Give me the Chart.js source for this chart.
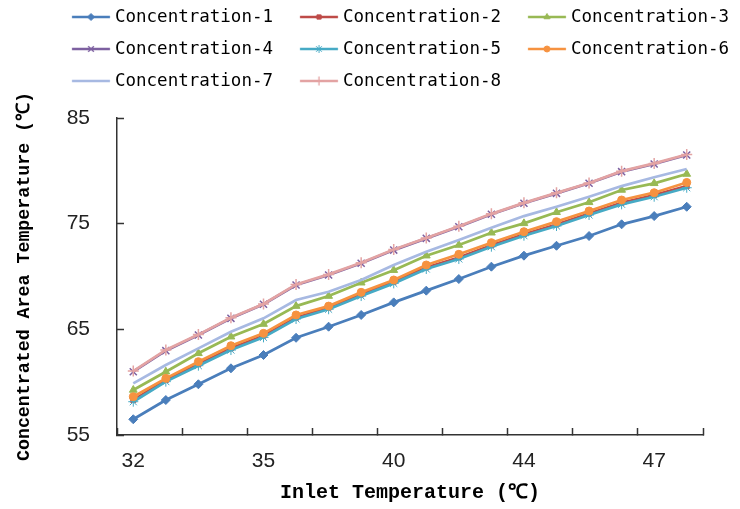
<!DOCTYPE html>
<html><head><meta charset="utf-8">
<script src="https://cdn.jsdelivr.net/npm/chart.js@4.4.0/dist/chart.umd.min.js"></script>
<style>html,body{margin:0;padding:0;background:#fff}canvas{display:block}</style>
</head><body>
<canvas id="c" width="740" height="509"></canvas>
<script>
// ---- data ----
const categories = ['32','','','','35','','','','40','','','','44','','','','47',''];
const seriesNames = ['Concentration-1','Concentration-2','Concentration-3','Concentration-4',
                     'Concentration-5','Concentration-6','Concentration-7','Concentration-8'];
const conc1 = [56.49,58.31,59.80,61.31,62.57,64.20,65.25,66.36,67.55,68.66,69.76,70.93,71.97,72.91,73.83,74.94,75.72,76.60];
const conc2 = [58.30,60.20,61.70,63.20,64.40,66.10,67.05,68.30,69.50,70.85,71.80,72.95,74.00,74.92,75.95,76.98,77.70,78.55];
const conc3 = [59.26,60.99,62.73,64.30,65.50,67.20,68.15,69.41,70.60,71.97,72.98,74.14,75.03,76.08,77.02,78.19,78.82,79.70];
const conc4 = [60.99,62.98,64.46,66.04,67.37,69.20,70.14,71.25,72.50,73.61,74.71,75.89,76.93,77.87,78.82,79.92,80.65,81.50];
const conc5 = [58.15,60.05,61.56,63.04,64.24,65.98,66.90,68.15,69.35,70.71,71.66,72.82,73.86,74.78,75.82,76.83,77.55,78.40];
const conc6 = [58.62,60.36,61.94,63.45,64.62,66.36,67.20,68.50,69.67,71.09,72.10,73.20,74.24,75.19,76.20,77.24,77.93,78.90];
const conc7 = [59.89,61.62,63.20,64.78,66.04,67.78,68.56,69.67,71.09,72.35,73.45,74.62,75.72,76.60,77.55,78.56,79.39,80.17];
const conc8 = [61.05,63.05,64.50,66.10,67.40,69.25,70.20,71.30,72.55,73.65,74.75,75.93,76.97,77.92,78.85,79.97,80.70,81.55];
const seriesValues = [conc1,conc2,conc3,conc4,conc5,conc6,conc7,conc8];
const yTicks = {min:55, max:85, step:10};

// ---- styles ----
const colors  = ['#4A7EBB','#BE4B48','#98B954','#7D60A0','#46AAC5','#F69240','#A7B9E2','#E3A3A3'];
const markers = ['rectRot','rect','triangle','crossRot','star','circle',false,'cross'];
const radii   = [4.5,3.5,4.5,5,5,4,0,5.5];

const LEG_FS = 17.5, LEG_PAD = 14.5, ITEM_STEP = 228;
const legFont = '"DejaVu Sans Mono", monospace';
const mctx = document.createElement('canvas').getContext('2d');
mctx.font = LEG_FS + 'px ' + legFont;
const textW = mctx.measureText(seriesNames[0]).width;
const boxW = ITEM_STEP - LEG_PAD - LEG_FS/2 - textW;

function legendSymbol(i){
  const startRel = boxW/2 + LEG_FS/2 - 43;
  const endRel = boxW/2 + LEG_FS/2 - 5;
  const H = Math.ceil(Math.max(Math.abs(startRel), Math.abs(endRel)) + 6);
  const cv = document.createElement('canvas'); cv.width = 2*H; cv.height = 16;
  const g = cv.getContext('2d');
  g.strokeStyle = colors[i]; g.lineWidth = 2.5;
  g.beginPath(); g.moveTo(H+startRel, 8); g.lineTo(H+endRel, 8); g.stroke();
  if (markers[i]) {
    g.fillStyle = colors[i]; g.strokeStyle = colors[i];
    const cross = markers[i].startsWith('cross');
    g.lineWidth = cross ? 1.3 : 1;
    Chart.helpers.drawPoint(g, {pointStyle: markers[i], radius: Math.max(3, radii[i]-1), rotation: 0, borderWidth: g.lineWidth}, H + (startRel+endRel)/2, 8);
  }
  return cv;
}
const symbols = seriesNames.map((_, i) => legendSymbol(i));

const datasets = seriesNames.map((name, i) => ({
  label: name,
  data: seriesValues[i],
  borderColor: colors[i],
  backgroundColor: colors[i],
  borderWidth: 2.75,
  pointStyle: markers[i] || 'circle',
  pointRadius: radii[i],
  pointBorderWidth: (markers[i] && markers[i].startsWith('cross')) ? 1.5 : 1,
  pointBorderColor: colors[i],
  pointBackgroundColor: colors[i],
  tension: 0,
  order: seriesNames.length - 1 - i
}));

const legendShift = {
  id: 'legendShift',
  afterLayout(chart){
    const lg = chart.legend; if (!lg) return;
    lg.left = 45; lg.right = 800; lg.top = -6.25; lg.bottom = lg.top + lg.height;
  }
};

const tickFont = {family: '"Liberation Sans Narrow", "Liberation Sans", sans-serif', size: 21};
const titleFamily = '"Liberation Mono", "DejaVu Sans Mono", monospace';

new Chart(document.getElementById('c'), {
  type: 'line',
  data: { labels: categories, datasets },
  options: {
    responsive: false,
    animation: false,
    layout: { padding: { top: 12, right: 37, bottom: 0, left: 0 } },
    plugins: {
      tooltip: { enabled: false },
      legend: {
        position: 'top', align: 'start',
        labels: {
          font: { family: legFont, size: LEG_FS },
          color: '#000',
          padding: LEG_PAD,
          usePointStyle: true,
          pointStyleWidth: boxW,
          generateLabels: () => seriesNames.map((name, i) => ({
            text: name, fillStyle: colors[i], strokeStyle: colors[i], lineWidth: 0,
            pointStyle: symbols[i], fontColor: '#000', hidden: false, datasetIndex: i
          }))
        }
      }
    },
    scales: {
      x: {
        type: 'category',
        offset: true,
        grid: {
          display: true, offset: true, drawOnChartArea: false, drawTicks: true,
          tickLength: -7, tickWidth: 1.5,
          tickColor: (ctx) => (ctx.index === undefined || ctx.index % 2 === 0) ? '#333' : 'rgba(0,0,0,0)'
        },
        border: { display: true, color: '#333', width: 1.5 },
        ticks: { autoSkip: false, maxRotation: 0, minRotation: 0, padding: 21, color: '#222', font: tickFont },
        title: { display: true, text: 'Inlet Temperature (℃)', color: '#000',
                 font: { family: titleFamily, size: 20, weight: 'bold' }, padding: { top: 0, bottom: 4 } },
        afterFit: (s) => { s.height = 74; }
      },
      y: {
        min: yTicks.min, max: yTicks.max,
        grid: { display: true, drawOnChartArea: false, drawTicks: true, tickLength: -7, tickWidth: 1.5, tickColor: '#333' },
        border: { display: true, color: '#333', width: 1.5 },
        ticks: { stepSize: yTicks.step, padding: 34, color: '#222', font: tickFont },
        title: { display: true, text: 'Concentrated Area Temperature (℃)', color: '#000',
                 font: { family: titleFamily, size: 18.3, weight: 'bold' }, padding: { top: 13.8, bottom: 0 } },
        afterFit: (s) => { s.width = 117; }
      }
    }
  },
  plugins: [legendShift]
});
</script>
</body></html>
